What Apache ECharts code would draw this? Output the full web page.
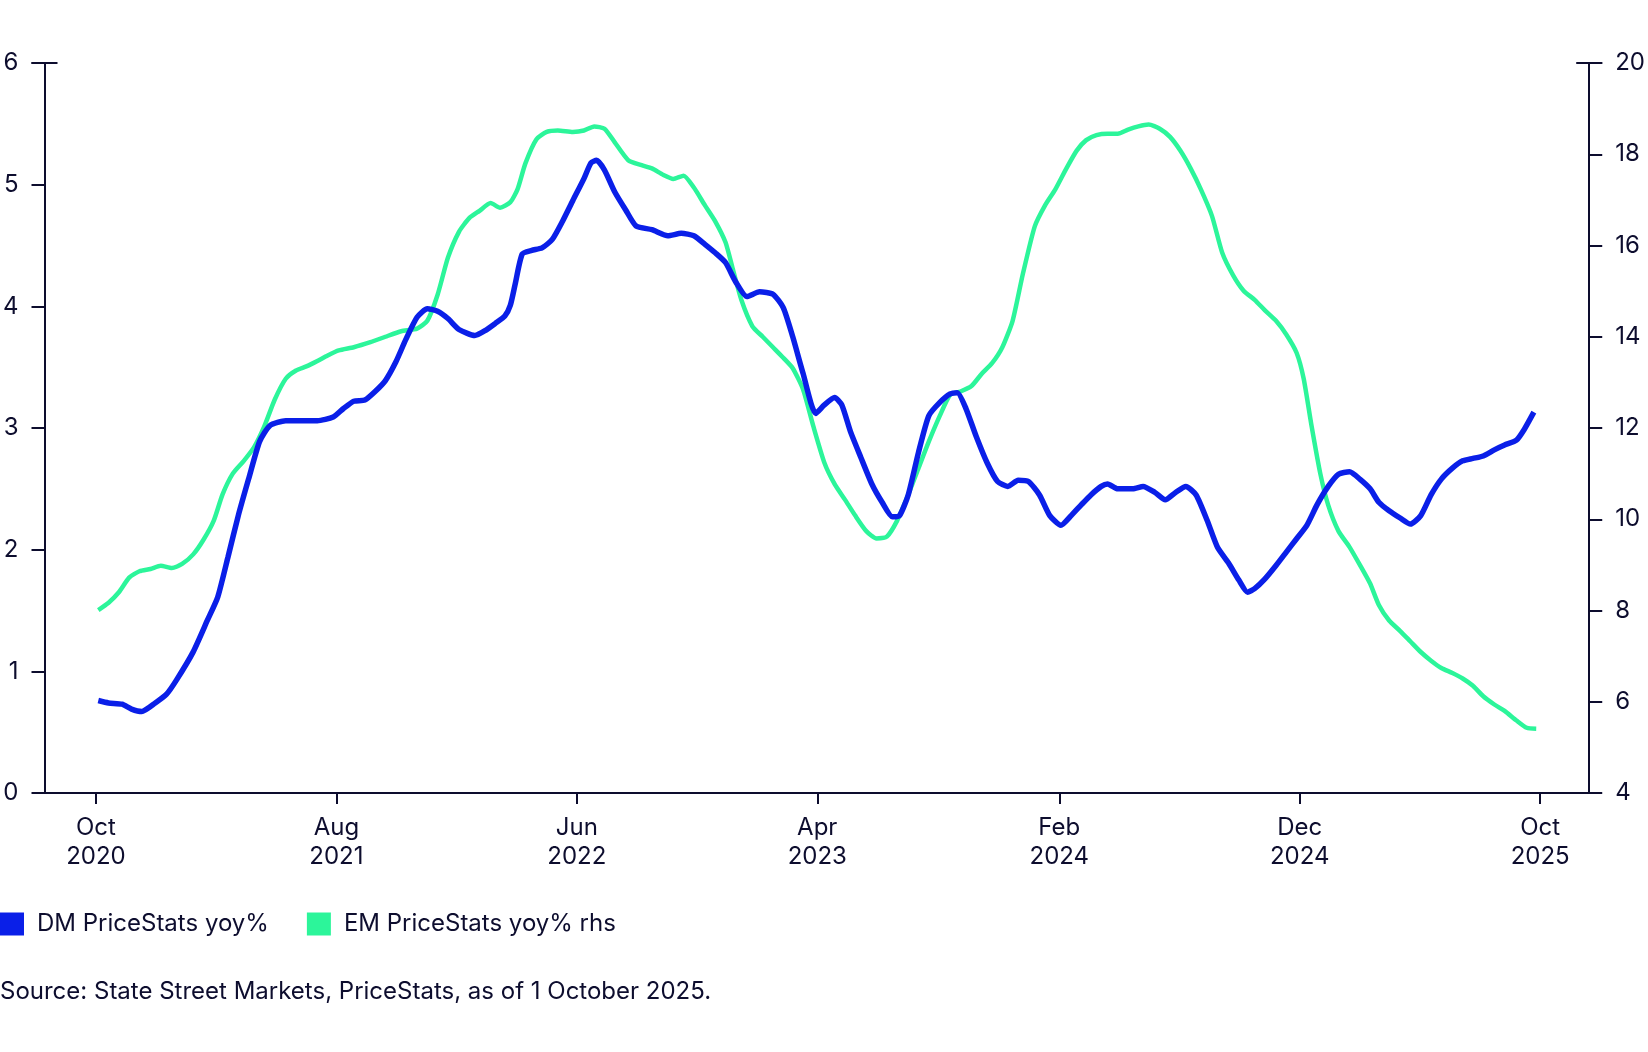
<!DOCTYPE html>
<html>
<head>
<meta charset="utf-8">
<script src="https://cdn.jsdelivr.net/npm/echarts@6/dist/echarts.min.js"></script>
<style>
html,body{margin:0;padding:0;background:#fff;}
#chart{width:1648px;height:1052px;}
</style>
</head>
<body>
<div id="chart"></div>
<script>
const dmDates = ['2020-10-04','2020-10-17','2020-11-03','2020-11-15','2020-11-28','2020-12-15','2020-12-29','2021-01-11','2021-02-01','2021-02-19','2021-03-04','2021-03-17','2021-03-30','2021-04-12','2021-04-26','2021-05-09','2021-05-29','2021-06-18','2021-07-08','2021-07-28','2021-08-10','2021-08-23','2021-09-06','2021-09-19','2021-10-02','2021-10-15','2021-10-28','2021-11-11','2021-11-24','2021-12-07','2021-12-20','2022-01-03','2022-01-23','2022-02-05','2022-02-18','2022-03-02','2022-03-09','2022-03-15','2022-03-24','2022-04-05','2022-04-18','2022-05-01','2022-05-14','2022-05-27','2022-06-10','2022-06-19','2022-06-26','2022-07-06','2022-07-19','2022-08-02','2022-08-15','2022-09-04','2022-09-24','2022-10-11','2022-10-27','2022-11-10','2022-11-23','2022-12-06','2022-12-19','2023-01-02','2023-01-18','2023-02-04','2023-02-17','2023-03-01','2023-03-14','2023-03-30','2023-04-10','2023-04-23','2023-05-02','2023-05-13','2023-05-26','2023-06-09','2023-06-22','2023-07-05','2023-07-14','2023-07-25','2023-08-07','2023-08-20','2023-09-03','2023-09-16','2023-09-25','2023-10-06','2023-10-19','2023-11-02','2023-11-15','2023-11-28','2023-12-11','2023-12-24','2024-01-07','2024-01-20','2024-02-03','2024-02-16','2024-02-29','2024-03-12','2024-03-25','2024-04-02','2024-04-15','2024-05-04','2024-05-17','2024-06-01','2024-06-14','2024-06-27','2024-07-10','2024-07-23','2024-08-06','2024-08-19','2024-09-02','2024-09-15','2024-09-26','2024-10-05','2024-10-18','2024-11-01','2024-11-14','2024-11-27','2024-12-10','2024-12-23','2025-01-06','2025-01-19','2025-02-02','2025-02-15','2025-02-28','2025-03-11','2025-03-24','2025-04-07','2025-04-20','2025-05-03','2025-05-16','2025-05-29','2025-06-12','2025-06-25','2025-07-08','2025-07-21','2025-08-04','2025-08-17','2025-09-01','2025-09-11','2025-09-23'];
const dmValues = [0.76,0.74,0.73,0.69,0.67,0.74,0.81,0.93,1.16,1.42,1.61,1.94,2.28,2.58,2.89,3.02,3.06,3.06,3.06,3.09,3.16,3.22,3.23,3.30,3.39,3.54,3.73,3.91,3.98,3.96,3.90,3.81,3.76,3.80,3.86,3.92,4.01,4.18,4.43,4.46,4.48,4.55,4.70,4.87,5.05,5.18,5.20,5.12,4.94,4.79,4.66,4.63,4.58,4.60,4.58,4.51,4.44,4.36,4.20,4.08,4.12,4.10,3.99,3.75,3.45,3.12,3.19,3.25,3.19,2.97,2.76,2.54,2.39,2.27,2.28,2.45,2.80,3.10,3.21,3.28,3.29,3.16,2.93,2.71,2.56,2.52,2.57,2.56,2.45,2.28,2.20,2.28,2.37,2.45,2.52,2.54,2.50,2.50,2.52,2.47,2.41,2.47,2.52,2.45,2.24,2.02,1.89,1.75,1.65,1.68,1.76,1.87,1.98,2.09,2.20,2.37,2.52,2.62,2.64,2.58,2.50,2.39,2.32,2.26,2.21,2.28,2.45,2.58,2.67,2.73,2.75,2.77,2.82,2.86,2.90,2.99,3.13];

const emDates = ['2020-10-04','2020-10-17','2020-10-30','2020-11-12','2020-11-25','2020-12-09','2020-12-22','2021-01-05','2021-01-18','2021-02-01','2021-02-14','2021-02-27','2021-03-10','2021-03-23','2021-04-06','2021-04-19','2021-05-02','2021-05-15','2021-05-29','2021-06-11','2021-06-24','2021-07-08','2021-07-21','2021-08-04','2021-08-23','2021-09-13','2021-10-02','2021-10-22','2021-11-11','2021-11-24','2021-12-07','2021-12-20','2022-01-03','2022-01-16','2022-01-29','2022-02-12','2022-02-24','2022-03-09','2022-03-18','2022-03-28','2022-04-11','2022-04-24','2022-05-08','2022-05-27','2022-06-10','2022-06-23','2022-07-06','2022-07-19','2022-08-05','2022-08-22','2022-09-04','2022-09-18','2022-10-01','2022-10-14','2022-10-27','2022-11-10','2022-11-23','2022-12-06','2022-12-15','2022-12-26','2023-01-09','2023-01-22','2023-02-04','2023-02-17','2023-03-01','2023-03-14','2023-03-27','2023-04-10','2023-04-23','2023-05-06','2023-05-19','2023-06-02','2023-06-15','2023-06-28','2023-07-11','2023-07-25','2023-08-07','2023-08-20','2023-09-03','2023-09-16','2023-09-29','2023-10-13','2023-10-26','2023-11-08','2023-11-21','2023-12-04','2023-12-17','2024-01-01','2024-01-14','2024-01-27','2024-02-10','2024-02-23','2024-03-06','2024-03-19','2024-04-02','2024-04-15','2024-04-28','2024-05-11','2024-05-24','2024-06-07','2024-06-20','2024-07-03','2024-07-16','2024-07-29','2024-08-12','2024-08-25','2024-09-08','2024-09-21','2024-10-05','2024-10-18','2024-11-01','2024-11-14','2024-11-27','2024-12-06','2024-12-16','2024-12-27','2025-01-06','2025-01-19','2025-02-02','2025-02-15','2025-02-28','2025-03-11','2025-03-24','2025-04-07','2025-04-20','2025-05-03','2025-05-16','2025-05-29','2025-06-12','2025-06-25','2025-07-08','2025-07-21','2025-08-04','2025-08-17','2025-09-01','2025-09-14','2025-09-26'];
const emValues = [8.01,8.17,8.40,8.72,8.86,8.91,8.98,8.93,9.02,9.23,9.55,9.97,10.54,11.00,11.28,11.58,12.04,12.62,13.08,13.26,13.35,13.47,13.59,13.70,13.77,13.88,14.00,14.12,14.18,14.35,14.92,15.73,16.30,16.60,16.76,16.93,16.83,16.95,17.23,17.80,18.33,18.49,18.52,18.49,18.52,18.61,18.56,18.26,17.87,17.76,17.69,17.55,17.46,17.53,17.27,16.88,16.53,16.07,15.50,14.81,14.23,14.00,13.77,13.54,13.31,12.85,12.04,11.24,10.77,10.43,10.08,9.74,9.58,9.62,9.97,10.54,11.12,11.70,12.27,12.73,12.80,12.92,13.19,13.42,13.77,14.35,15.38,16.42,16.88,17.23,17.69,18.08,18.31,18.42,18.45,18.45,18.54,18.61,18.65,18.56,18.38,18.08,17.69,17.23,16.65,15.84,15.34,15.01,14.81,14.58,14.35,14.05,13.65,13.08,12.04,11.00,10.31,9.74,9.39,9.00,8.59,8.12,7.78,7.55,7.32,7.09,6.90,6.74,6.63,6.51,6.35,6.12,5.94,5.80,5.59,5.43,5.41];

const xTickDates = ['2020-10-01','2021-08-01','2022-06-01','2023-04-01','2024-02-01','2024-12-01','2025-10-01'];
const xRange = ['2020-07-28','2025-12-02'];
const leftTicks = [0,1,2,3,4,5,6];
const rightTicks = [4,6,8,10,12,14,16,18,20];
const seriesNames = ['DM PriceStats yoy%','EM PriceStats yoy% rhs'];
const sourceText = 'Source: State Street Markets, PriceStats, as of 1 October 2025.';

const INK = '#0d0d2e';
const FONT = 'Inter';
const FS = 24;
const months = ['Jan','Feb','Mar','Apr','May','Jun','Jul','Aug','Sep','Oct','Nov','Dec'];
const ts = d => Date.UTC(+d.slice(0,4), +d.slice(5,7)-1, +d.slice(8,10));
const tickTs = xTickDates.map(ts);

const chart = echarts.init(document.getElementById('chart'), null, {renderer:'canvas'});
const axisCommon = {
  axisLine:{show:true, lineStyle:{color:INK, width:2}, symbol:['none','rect'], symbolSize:[26,2]},
  axisTick:{show:true, inside:false, length:13, lineStyle:{color:INK, width:2}},
  splitLine:{show:false},
  axisLabel:{color:INK, fontSize:FS, fontFamily:FONT, margin:26}
};
chart.setOption({
  animation:false,
  backgroundColor:'#fff',
  textStyle:{fontFamily:FONT},
  grid:{left:41, right:55, top:63, bottom:259, containLabel:false},
  title:{text:sourceText, left:0, top:980, padding:0, textStyle:{fontSize:FS, fontWeight:'normal', color:INK, fontFamily:FONT}},
  legend:{
    left:0, top:912, padding:0, icon:'rect', itemWidth:24, itemHeight:23, itemGap:38,
    textStyle:{fontSize:FS, color:INK, fontFamily:FONT, padding:[0,0,0,8]},
    data:seriesNames
  },
  xAxis:{
    type:'value',
    min:ts(xRange[0]), max:ts(xRange[1]),
    axisLine:{show:true, lineStyle:{color:INK, width:2}},
    axisTick:{show:true, length:11, lineStyle:{color:INK, width:2}, customValues:tickTs},
    splitLine:{show:false},
    axisLabel:{
      color:INK, fontSize:FS, fontFamily:FONT, margin:20, lineHeight:29,
      customValues:tickTs,
      formatter:function(v){const d=new Date(v);return months[d.getUTCMonth()]+'\n'+d.getUTCFullYear();}
    }
  },
  yAxis:[
    Object.assign({}, axisCommon, {type:'value', position:'left', min:leftTicks[0], max:leftTicks[leftTicks.length-1], interval:1}),
    Object.assign({}, axisCommon, {type:'value', position:'right', min:rightTicks[0], max:rightTicks[rightTicks.length-1], interval:2})
  ],
  series:[
    {name:seriesNames[0], type:'line', yAxisIndex:0, showSymbol:false, smooth:0.2, z:3,
     color:'#0a1fe8', lineStyle:{width:5.5, color:'#0a1fe8'},
     data:dmDates.map((d,i)=>[ts(d),dmValues[i]])},
    {name:seriesNames[1], type:'line', yAxisIndex:1, showSymbol:false, smooth:0.2, z:2,
     color:'#2cf59a', lineStyle:{width:4.5, color:'#2cf59a'},
     data:emDates.map((d,i)=>[ts(d),emValues[i]])}
  ]
});
</script>
</body>
</html>
